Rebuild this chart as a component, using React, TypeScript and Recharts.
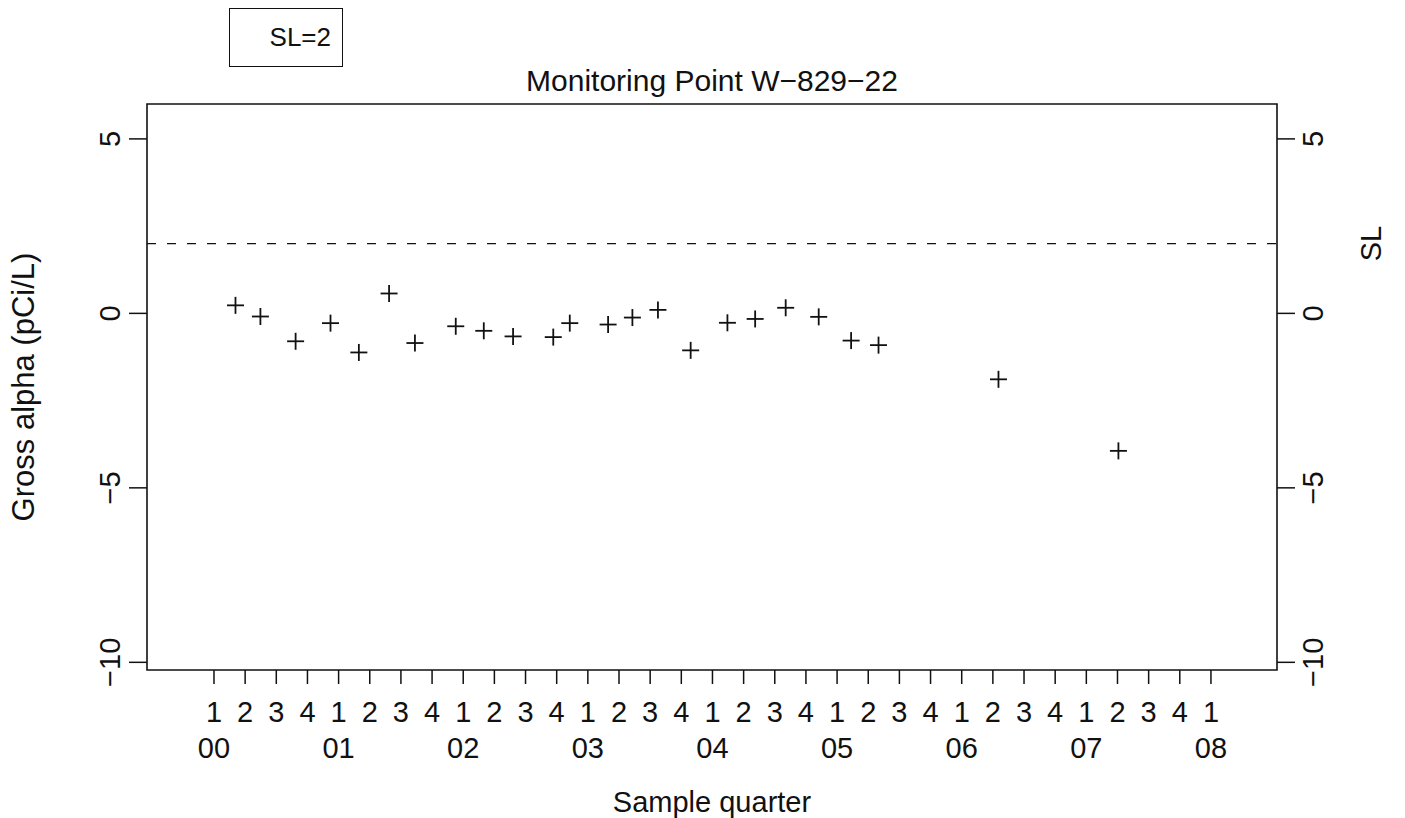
import React from 'react';
import {
  ComposedChart,
  Scatter,
  XAxis,
  YAxis,
  ReferenceLine,
  ReferenceArea,
} from 'recharts';

// sample position in quarters since 2000 Q1
const quarterPos = [
  0.69, 1.49, 2.62, 3.74, 4.65, 5.62, 6.45, 7.76, 8.66, 9.6, 10.89, 11.42,
  12.65, 13.43, 14.25, 15.3, 16.48, 17.37, 18.35, 19.41, 20.45, 21.33, 25.18, 29.03,
];
// gross alpha, pCi/L
const grossAlpha = [
  0.23, -0.09, -0.8, -0.28, -1.12, 0.57, -0.85, -0.37, -0.5, -0.66, -0.68, -0.28,
  -0.32, -0.12, 0.1, -1.06, -0.27, -0.16, 0.16, -0.1, -0.78, -0.91, -1.89, -3.94,
];

const quarterTicks = [
  0, 1, 2, 3, 4, 5, 6, 7, 8, 9, 10, 11, 12, 13, 14, 15, 16,
  17, 18, 19, 20, 21, 22, 23, 24, 25, 26, 27, 28, 29, 30, 31, 32,
];
const quarterNames = ['1', '2', '3', '4'];
const yearNames = ['00', '01', '02', '03', '04', '05', '06', '07', '08'];
const yTicks = [-10, -5, 0, 5];
const SL = 2;

const xDomain: [number, number] = [-2.15, 34.12];
const yDomain: [number, number] = [-10.22, 6.0];

const data = quarterPos.map((q, i) => ({ q, alpha: grossAlpha[i] }));

const FONT = '"Liberation Sans", Arial, Helvetica, sans-serif';
const FS = 29;
const INK = '#111';

const fmt = (v: number) => (v < 0 ? '\u2212' + Math.abs(v) : String(v));

const Plus = (props: any) => {
  const { cx, cy } = props;
  if (cx == null || cy == null) return null;
  const r = 8.5;
  return (
    <g stroke={INK} strokeWidth={1.8}>
      <line x1={cx - r} y1={cy} x2={cx + r} y2={cy} />
      <line x1={cx} y1={cy - r} x2={cx} y2={cy + r} />
    </g>
  );
};

const QuarterTick = (props: any) => {
  const { x, y, payload } = props;
  const idx = payload.value;
  return (
    <g fontFamily={FONT} fontSize={FS} fill={INK}>
      <text x={x} y={y + 37.5} textAnchor="middle" fill={INK}>
        {quarterNames[idx % 4]}
      </text>
      {idx % 4 === 0 && (
        <text x={x} y={y + 73.5} textAnchor="middle" fill={INK}>
          {yearNames[idx / 4]}
        </text>
      )}
    </g>
  );
};

const SideTick = (shift: number) => (props: any) => {
  const { x, y, payload } = props;
  return (
    <g transform={`translate(${x + shift},${y}) rotate(-90)`}>
      <text textAnchor="middle" dy={10.4} fontFamily={FONT} fontSize={FS} fill={INK}>
        {fmt(payload.value)}
      </text>
    </g>
  );
};

export default function App() {
  return (
    <div
      style={{
        position: 'absolute',
        left: 0,
        top: 0,
        width: 1405,
        height: 818,
        background: '#fff',
        fontFamily: FONT,
      }}
    >
      <div
        style={{
          position: 'absolute',
          left: 229,
          top: 8,
          width: 114,
          height: 59,
          boxSizing: 'border-box',
          border: '1.5px solid #111',
          fontSize: 26,
          lineHeight: '57px',
          textAlign: 'right',
          paddingRight: 11,
          color: INK,
        }}
      >
        SL=2
      </div>
      <ComposedChart
        width={1405}
        height={818}
        data={data}
        margin={{ top: 104, right: 0, bottom: 0, left: 0 }}
      >
        <XAxis
          dataKey="q"
          type="number"
          domain={xDomain}
          ticks={quarterTicks}
          interval={0}
          allowDataOverflow
          height={148}
          axisLine={false}
          tickSize={14}
          tickMargin={0}
          tickLine={{ stroke: INK, strokeWidth: 1.5 }}
          tick={<QuarterTick />}
          label={{
            content: (p: any) => {
              const vb = p.viewBox;
              return (
                <text
                  x={vb.x + vb.width / 2}
                  y={812}
                  textAnchor="middle"
                  fontFamily={FONT}
                  fontSize={FS}
                  fill={INK}
                >
                  Sample quarter
                </text>
              );
            },
          }}
        />
        <YAxis
          yAxisId="left"
          orientation="left"
          type="number"
          domain={yDomain}
          ticks={yTicks}
          interval={0}
          allowDataOverflow
          width={147}
          axisLine={false}
          tickSize={18}
          tickMargin={8}
          tickLine={{ stroke: INK, strokeWidth: 1.5 }}
          tick={SideTick(-11)}
          label={{
            content: (p: any) => {
              const vb = p.viewBox;
              return (
                <g transform={`translate(${vb.x + 23},${vb.y + vb.height / 2}) rotate(-90)`}>
                  <text textAnchor="middle" dy={11} fontFamily={FONT} fontSize={31} fill={INK}>
                    Gross alpha (pCi/L)
                  </text>
                </g>
              );
            },
          }}
        />
        <YAxis
          yAxisId="right"
          orientation="right"
          type="number"
          domain={yDomain}
          ticks={yTicks}
          interval={0}
          allowDataOverflow
          width={128}
          axisLine={false}
          tickSize={18}
          tickMargin={8}
          tickLine={{ stroke: INK, strokeWidth: 1.5 }}
          tick={SideTick(10)}
        />
        <ReferenceArea
          yAxisId="left"
          x1={xDomain[0]}
          x2={xDomain[1]}
          y1={yDomain[0]}
          y2={yDomain[1]}
          fill="none"
          stroke={INK}
          strokeWidth={1.6}
          label={{
            content: (p: any) => {
              const vb = p.viewBox;
              return (
                <text
                  x={vb.x + vb.width / 2}
                  y={vb.y - 13.5}
                  textAnchor="middle"
                  fontFamily={FONT}
                  fontSize={30}
                  fill={INK}
                >
                  Monitoring Point W{'\u2212'}829{'\u2212'}22
                </text>
              );
            },
          }}
        />
        <ReferenceLine
          yAxisId="left"
          y={SL}
          stroke={INK}
          strokeWidth={1.3}
          strokeDasharray="9 11"
          label={{
            content: (p: any) => {
              const vb = p.viewBox;
              return (
                <g transform={`translate(${vb.x + vb.width + 94},${vb.y}) rotate(-90)`}>
                  <text textAnchor="middle" dy={10.4} fontFamily={FONT} fontSize={FS} fill={INK}>
                    SL
                  </text>
                </g>
              );
            },
          }}
        />
        <Scatter
          yAxisId="left"
          dataKey="alpha"
          shape={<Plus />}
          isAnimationActive={false}
        />
      </ComposedChart>
    </div>
  );
}
